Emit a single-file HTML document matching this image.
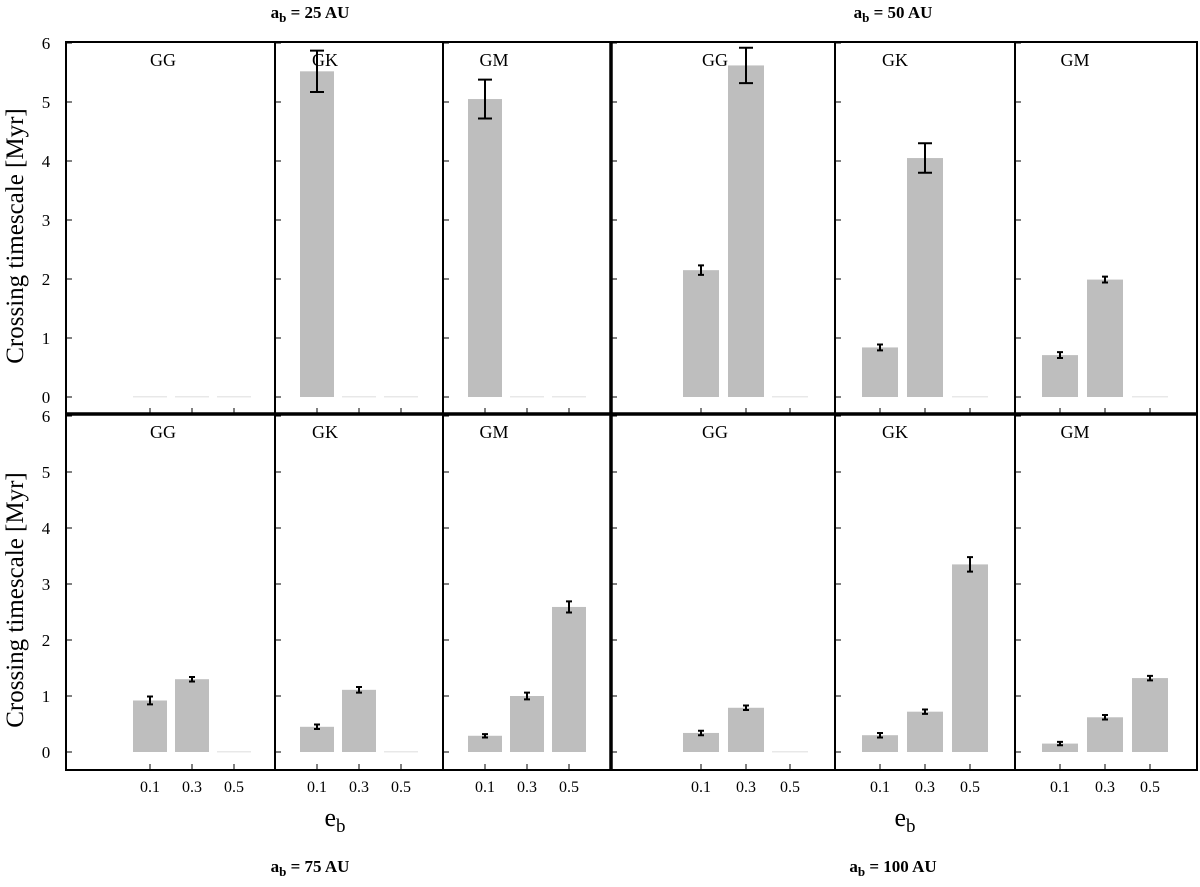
<!DOCTYPE html>
<html><head><meta charset="utf-8"><style>
body{margin:0;background:#fff}
svg text{font-family:"Liberation Serif",serif;fill:#000}
</style></head><body>
<svg id="c" width="1200" height="882" xmlns="http://www.w3.org/2000/svg"></svg>
<script>
// data: [row][group][panel] values and errors for e_b = 0.1, 0.3, 0.5
const eValues = ["0.1","0.3","0.5"];
const panelNames = ["GG","GK","GM"];
const yTicks = [0,1,2,3,4,5,6];
const tl_GG = [0,0,0], tl_GG_err = [0,0,0];
const tl_GK = [5.52,0,0], tl_GK_err = [0.35,0,0];
const tl_GM = [5.05,0,0], tl_GM_err = [0.33,0,0];
const tr_GG = [2.15,5.62,0], tr_GG_err = [0.08,0.3,0];
const tr_GK = [0.84,4.05,0], tr_GK_err = [0.05,0.25,0];
const tr_GM = [0.71,1.99,0], tr_GM_err = [0.05,0.05,0];
const bl_GG = [0.92,1.30,0], bl_GG_err = [0.07,0.04,0];
const bl_GK = [0.45,1.11,0], bl_GK_err = [0.04,0.05,0];
const bl_GM = [0.29,1.00,2.59], bl_GM_err = [0.03,0.06,0.1];
const br_GG = [0.34,0.79,0], br_GG_err = [0.04,0.04,0];
const br_GK = [0.30,0.72,3.35], br_GK_err = [0.04,0.04,0.13];
const br_GM = [0.15,0.62,1.32], br_GM_err = [0.03,0.04,0.04];
const titles = ["a_b = 25 AU","a_b = 50 AU","a_b = 75 AU","a_b = 100 AU"];

const svg=document.getElementById('c');
const NS='http://www.w3.org/2000/svg';
function mk(tag,attrs,name,parent){const e=document.createElementNS(NS,tag);for(const k in attrs)e.setAttribute(k,attrs[k]);


(parent||svg).appendChild(e);return e;}
const rows=[{y0:397,s:59,top:42,bot:414},{y0:752,s:56,top:414,bot:770}];
const groups=[
 {panels:[[66,275],[275,443],[443,611]],centers:[[150,192,234],[317,359,401],[485,527,569]],labelX:[163,325,494],bw:34},
 {panels:[[611,835],[835,1015],[1015,1197]],centers:[[701,746,790],[880,925,970],[1060,1105,1150]],labelX:[715,895,1075],bw:36}];
const data=[[[[tl_GG,tl_GG_err],[tl_GK,tl_GK_err],[tl_GM,tl_GM_err]],[[tr_GG,tr_GG_err],[tr_GK,tr_GK_err],[tr_GM,tr_GM_err]]],
 [[[bl_GG,bl_GG_err],[bl_GK,bl_GK_err],[bl_GM,bl_GM_err]],[[br_GG,br_GG_err],[br_GK,br_GK_err],[br_GM,br_GM_err]]]];
rows.forEach((r,ri)=>{
 const Y=v=>r.y0-v*r.s;
 groups.forEach((g,gi)=>{
  g.panels.forEach((p,pi)=>{
   const [vals,errs]=data[ri][gi][pi];
   const t=mk('text',{x:g.labelX[pi],y:r.top+24,'font-size':18,'text-anchor':'middle'},'panel-label');t.textContent=panelNames[pi];
   vals.forEach((v,i)=>{
    const cx=g.centers[pi][i];
    if(v===0){mk('rect',{x:cx-g.bw/2,y:Y(0)-1,width:g.bw,height:1.5,fill:'#e8e8e8'},'bar-zero');}
    else{mk('rect',{x:cx-g.bw/2,y:Y(v),width:g.bw,height:Y(0)-Y(v),fill:'#bebebe'},'bar-'+panelNames[pi]+'-'+eValues[i]);
     const e=errs[i],w=e>0.15?7:3;
     mk('path',{d:`M${cx} ${Y(v+e)}V${Y(v-e)}M${cx-w} ${Y(v+e)}H${cx+w}M${cx-w} ${Y(v-e)}H${cx+w}`,stroke:'#000','stroke-width':2,fill:'none'},'error-bar');}
    mk('line',{x1:cx,x2:cx,y1:r.bot,y2:r.bot-6,stroke:'#000','stroke-width':1},'x-tick');
    if(ri===1){const t2=mk('text',{x:cx,y:792,'font-size':16,'text-anchor':'middle'},'x-tick-label');t2.textContent=eValues[i];}
   });
   yTicks.forEach(v=>{mk('line',{x1:p[0],x2:p[0]+6,y1:Y(v),y2:Y(v),stroke:'#000','stroke-width':1},'y-tick');});
  });
 });
 yTicks.forEach(v=>{const t=mk('text',{x:46,y:Y(v)+6,'font-size':17,'text-anchor':'middle'},'y-tick-label');t.textContent=v;});
 const yt=mk('text',{x:0,y:0,'font-size':25,'text-anchor':'middle',transform:`translate(23,${(r.top+r.bot)/2+8}) rotate(-90)`},'y-axis-title');yt.textContent='Crossing timescale [Myr]';
});
mk('rect',{x:66,y:42,width:1131,height:728,fill:'none',stroke:'#000','stroke-width':2},'frame');
mk('line',{x1:66,x2:1197,y1:414,y2:414,stroke:'#000','stroke-width':3.5},'row-divider');
mk('line',{x1:611,x2:611,y1:42,y2:770,stroke:'#000','stroke-width':3.5},'group-divider');
[275,443,835,1015].forEach(x=>mk('line',{x1:x,x2:x,y1:42,y2:770,stroke:'#000','stroke-width':2},'panel-divider'));
[[310,18,0],[893,18,1],[310,872,2],[893,872,3]].forEach(([x,y,i])=>{
 const t=mk('text',{x:x,y:y,'font-size':17,'font-weight':'bold','text-anchor':'middle'},'group-title');
 const parts=titles[i].split('_b');
 t.innerHTML=`${parts[0]}<tspan font-size="13" dy="4">b</tspan><tspan dy="-4">${parts[1]}</tspan>`;
});
[335,905].forEach(x=>{const t=mk('text',{x:x,y:826,'font-size':26,'text-anchor':'middle'},'x-axis-title');t.innerHTML='e<tspan font-size="19" dy="6">b</tspan>';});
</script>
</body></html>
